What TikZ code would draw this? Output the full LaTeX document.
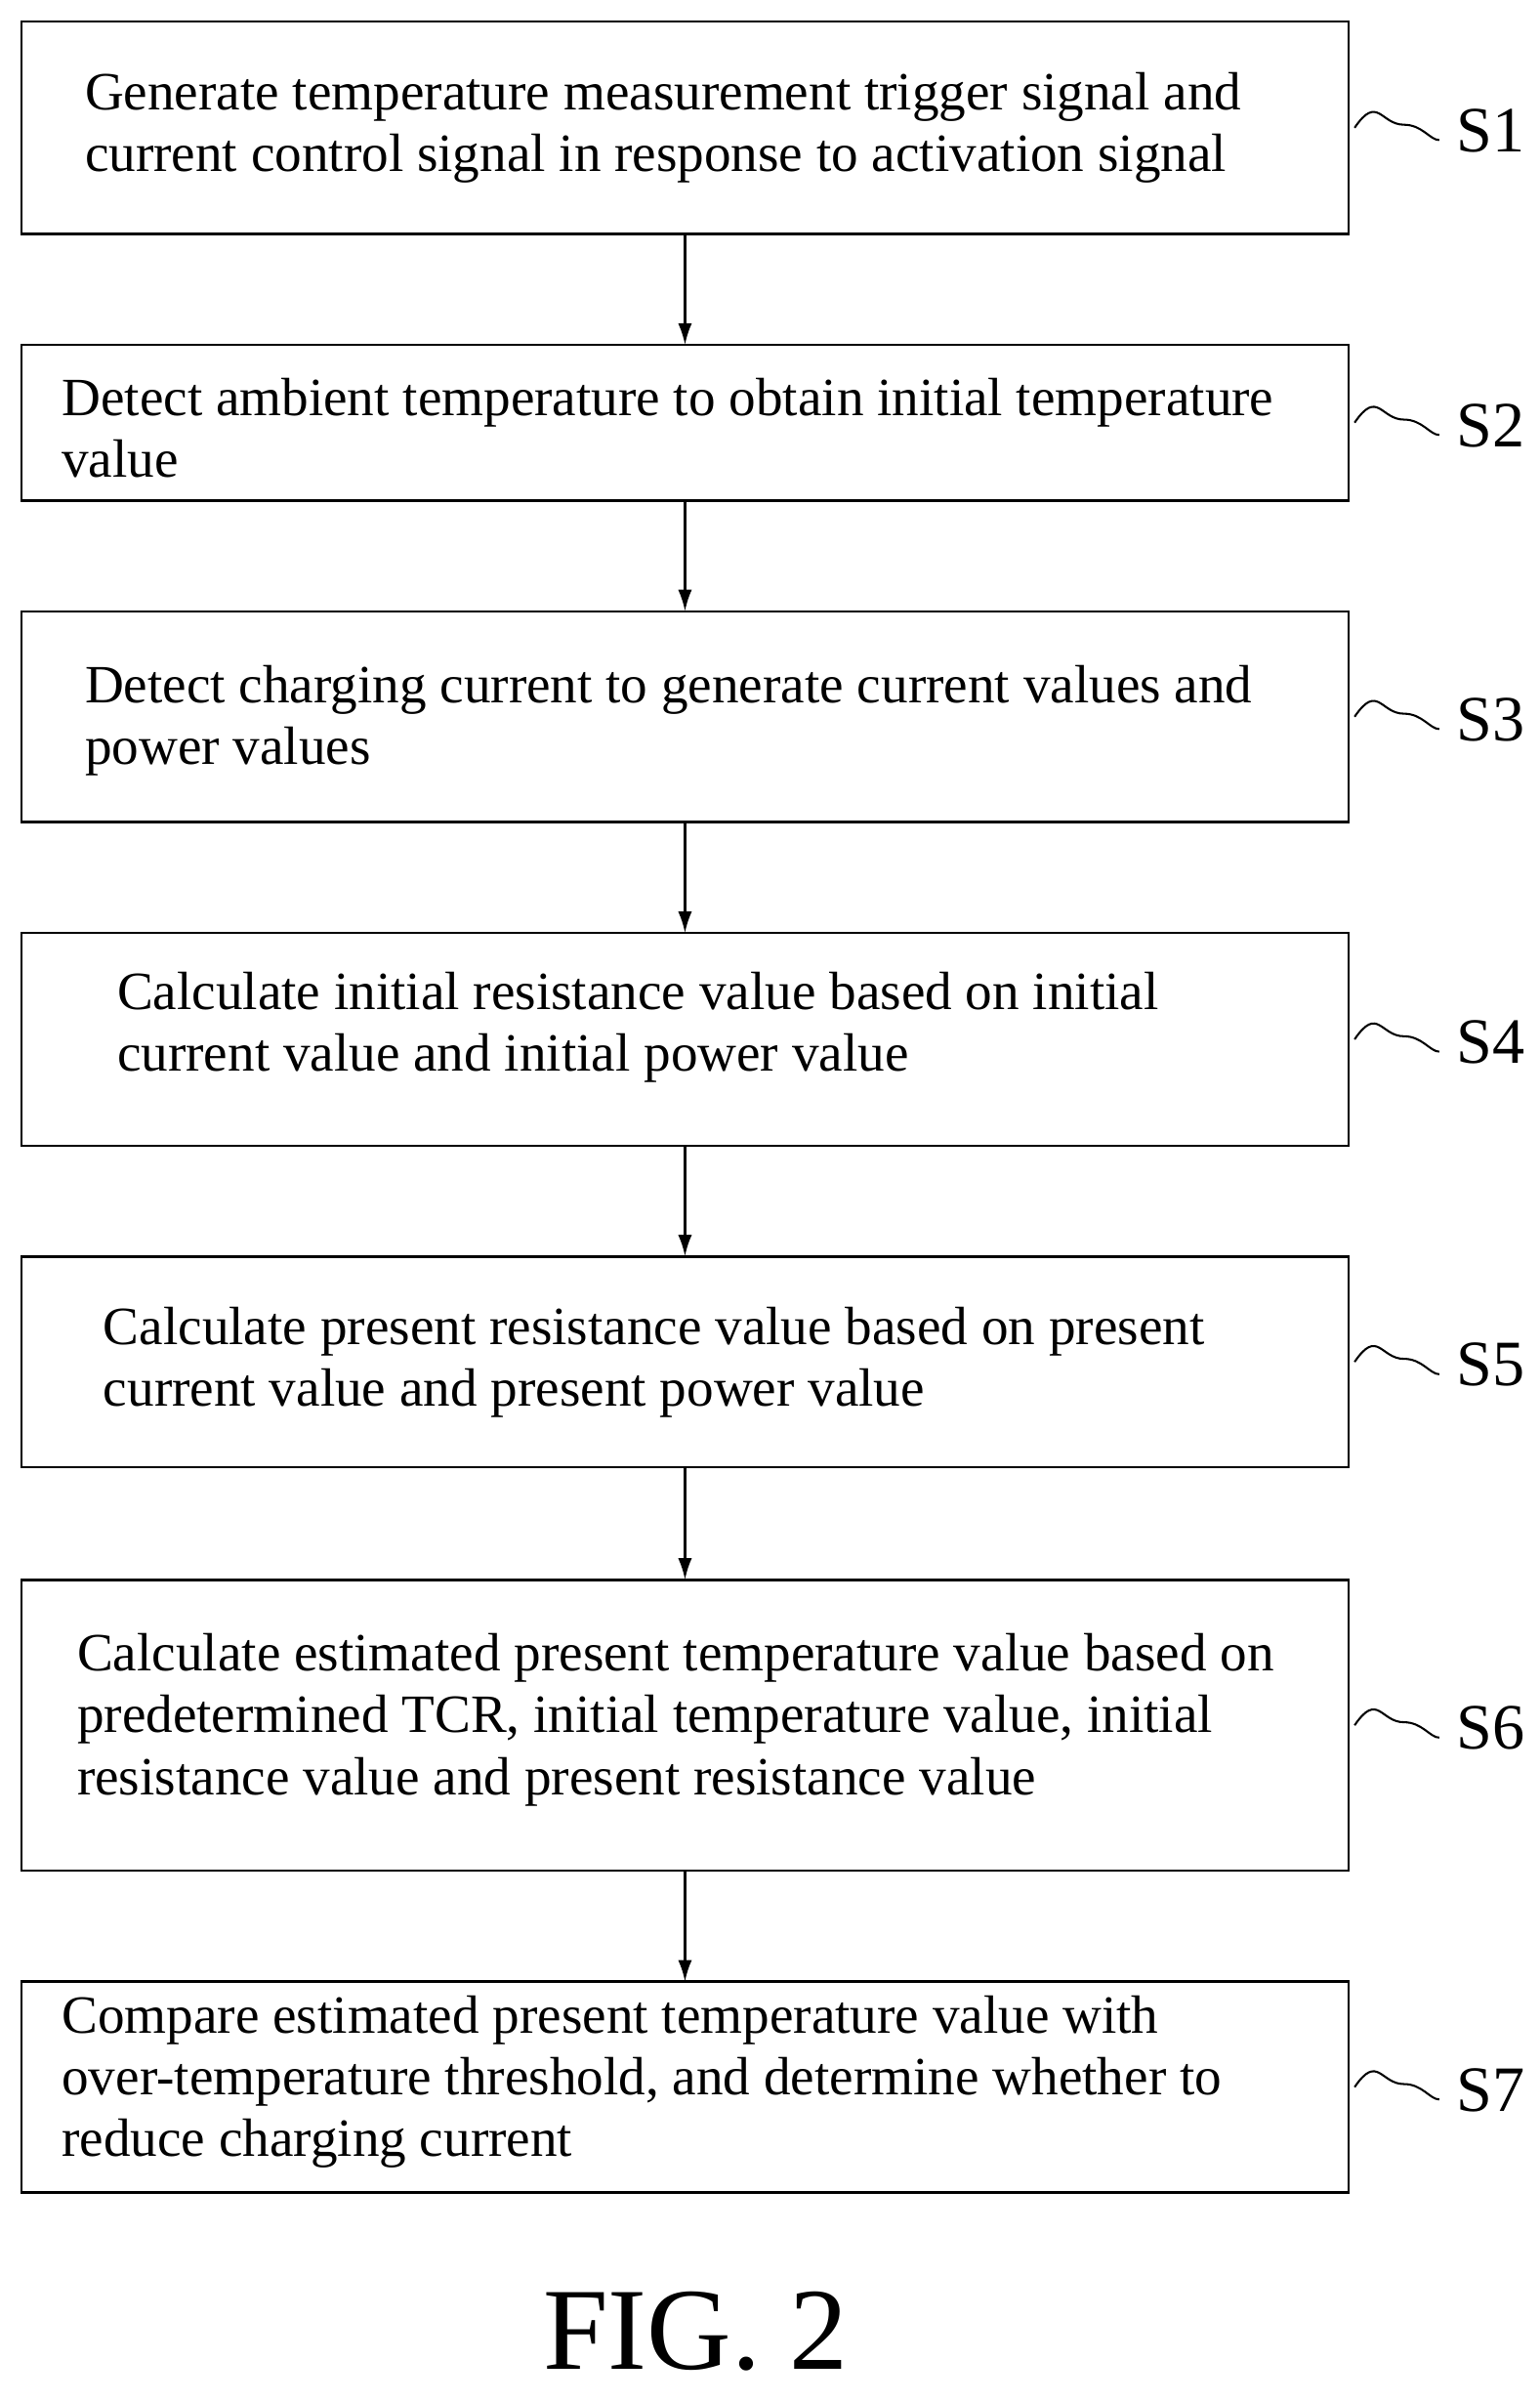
\documentclass[tikz,border=0pt]{standalone}
\usepackage{fontspec}
\setmainfont{Liberation Serif}
\usetikzlibrary{arrows.meta}
\begin{document}
\begin{tikzpicture}[x=1pt,y=-1pt,
 box/.style={draw,line width=1.6pt},
 txt/.style={anchor=west,align=left,font=\fontsize{35}{40}\selectfont,inner sep=0pt},
 lab/.style={anchor=west,font=\fontsize{42}{42}\selectfont,inner sep=0pt},
 arr/.style={-{Latex[length=14pt,width=9pt]},line width=1.6pt}]
\useasboundingbox (0,0) rectangle (1000,1560);
\foreach \n/\t/\b/\tx/\s in {1/14/152/55/S1,2/224/325/40/S2,3/397/534/55/S3,4/606/744/76/S4,5/816/953/67/S5,6/1026/1215/50/S6,7/1287/1424/40/S7}{
  \draw[box] (14,\t) rectangle (876,\b);
  \coordinate (top\n) at (445,\t);
  \coordinate (bot\n) at (445,\b);
  \coordinate (sq\n) at (880,{(\t+\b)/2});
  \draw[line width=1.3pt] (sq\n) .. controls +(15,-22) and +(-15,0) .. +(32,-2) .. controls +(12,0) and +(-6,0) .. +(55,8);
  \node[lab] (L\n) at (946,{(\t+\b)/2+2}) {\s};
}
\node[txt] (t1) at (55,83) {Generate temperature measurement trigger signal and\\current control signal in response to activation signal};
\node[txt] (t2) at (40,278) {Detect ambient temperature to obtain initial temperature\\value};
\node[txt] (t3) at (55,468) {Detect charging current to generate current values and\\power values};
\node[txt] (t4) at (76,667) {Calculate initial resistance value based on initial\\current value and initial power value};
\node[txt] (t5) at (67,885) {Calculate present resistance value based on present\\current value and present power value};
\node[txt] (t6) at (50,1117) {Calculate estimated present temperature value based on\\predetermined TCR, initial temperature value, initial\\resistance value and present resistance value};
\node[txt] (t7) at (40,1352) {Compare estimated present temperature value with\\over-temperature threshold, and determine whether to\\reduce charging current};
\foreach \a/\b in {1/2,2/3,3/4,4/5,5/6,6/7}{\draw[arr] (bot\a) -- (top\b);}
\node[font=\fontsize{76}{76}\selectfont] (fig) at (452,1514) {FIG. 2};
\end{tikzpicture}
\end{document}
